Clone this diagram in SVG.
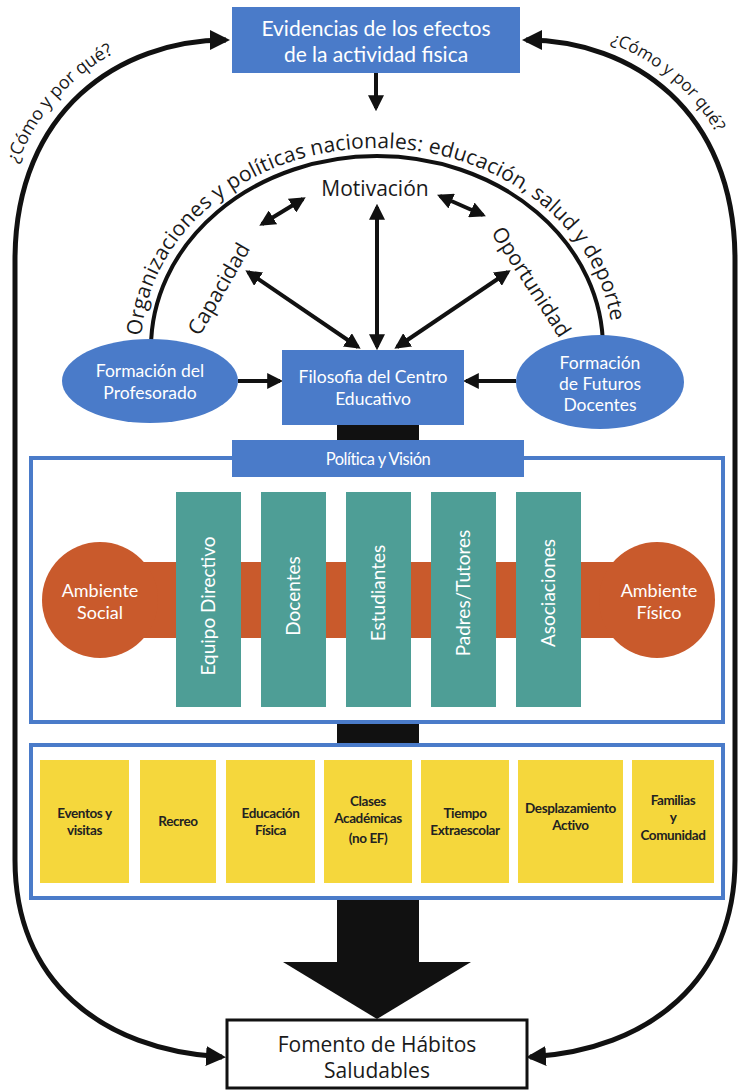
<svg xmlns="http://www.w3.org/2000/svg" width="739" height="1090" viewBox="0 0 739 1090">
<style>
.blue{fill:#4a7bc9}
.wt{fill:#fff;font-family:Lato,"Open Sans",sans-serif;text-anchor:middle}
.bk{fill:#1a1a1a;font-family:"Open Sans",Lato,sans-serif}
.ln{fill:none;stroke:#111;stroke-width:5}
.ar{fill:none;stroke:#111;stroke-width:4}
.teal{fill:#4e9e96}
.org{fill:#c95a2c}
.yel{fill:#f5d73c}
.frame{fill:#fff;stroke:#4a7bc9;stroke-width:4}
.yt{font-family:Lato,sans-serif;font-weight:bold;font-size:13.5px;fill:#222;text-anchor:middle;letter-spacing:-0.4px}
.vt{fill:#fff;font-family:Lato,"Open Sans",sans-serif;font-size:19px;text-anchor:middle}
</style>
<defs>
<marker id="ah" viewBox="0 0 10 10" refX="8" refY="5" markerWidth="4" markerHeight="4" orient="auto-start-reverse" markerUnits="strokeWidth"><path d="M0,0 L10,5 L0,10 z" fill="#111"/></marker>
<path id="lp" d="M 1 260 C 1 100 116 26 224 26"/>
<path id="rp" d="M 528 28 C 634 28 747 100 747 260"/>
<path id="arcp" d="M 141 348 A 236 200 0 0 1 613 348"/>
</defs>

<g id="shaft">
<rect x="337" y="425" width="82" height="540" fill="#111"/>
<polygon points="283,962 471,962 377,1019" fill="#111"/>
</g>

<g id="frame1"><rect class="frame" x="31" y="458" width="692" height="264"/></g>
<g id="frame2"><rect class="frame" x="31" y="745" width="692" height="153"/></g>

<g id="connectors">
<path class="ln" d="M 226 40 C 120 40 15 110 15 260 L 15 860 C 15 980 100 1050 222 1057" marker-start="url(#ah)" marker-end="url(#ah)"/>
<path class="ln" d="M 526 40 C 632 40 735 110 735 260 L 735 860 C 735 980 650 1050 530 1057" marker-start="url(#ah)" marker-end="url(#ah)"/>
<path class="ar" d="M 376 73 L 376 108" marker-end="url(#ah)"/>
<path class="ar" d="M 151 348 A 226 192 0 0 1 603 348"/>
<path class="ar" d="M 262 224 L 303 199" marker-start="url(#ah)" marker-end="url(#ah)"/>
<path class="ar" d="M 440 196 L 483 215" marker-start="url(#ah)" marker-end="url(#ah)"/>
<path class="ar" d="M 377 207 L 377 347" marker-start="url(#ah)" marker-end="url(#ah)"/>
<path class="ar" d="M 248 272 L 358 347" marker-start="url(#ah)" marker-end="url(#ah)"/>
<path class="ar" d="M 508 272 L 397 347" marker-start="url(#ah)" marker-end="url(#ah)"/>
<path class="ar" d="M 238 381 L 280 381" marker-end="url(#ah)"/>
<path class="ar" d="M 516 381 L 466 381" marker-end="url(#ah)"/>
</g>

<g id="loop-labels">
<text class="bk" font-size="18"><textPath href="#lp" startOffset="98">¿Cómo y por qué?</textPath></text>
<text class="bk" font-size="17"><textPath href="#rp" startOffset="84">¿Cómo y por qué?</textPath></text>
</g>

<g id="evidencias">
<rect class="blue" x="232" y="7" width="288" height="66"/>
<text class="wt" font-size="21" x="376" y="36">Evidencias de los efectos</text>
<text class="wt" font-size="21" x="376" y="62">de la actividad fisica</text>
</g>

<g id="organizaciones">
<text class="bk" font-size="21"><textPath href="#arcp" startOffset="12" textLength="260" lengthAdjust="spacing">Organizaciones y políticas</textPath></text>
<text class="bk" font-size="21"><textPath href="#arcp" startOffset="277" textLength="111" lengthAdjust="spacing">nacionales:</textPath></text>
<text class="bk" font-size="21"><textPath href="#arcp" startOffset="394" textLength="107" lengthAdjust="spacing">educación,</textPath></text>
<text class="bk" font-size="21"><textPath href="#arcp" startOffset="506" textLength="153" lengthAdjust="spacing">salud y deporte</textPath></text>
</g>

<g id="motivacion"><text class="bk" font-size="21" x="375" y="196" text-anchor="middle">Motivación</text></g>
<g id="capacidad"><text class="bk" font-size="21" text-anchor="middle" transform="translate(219,289) rotate(-60)" y="7">Capacidad</text></g>
<g id="oportunidad"><text class="bk" font-size="21" text-anchor="middle" transform="translate(531,282) rotate(57)" y="7">Oportunidad</text></g>

<g id="formacion-profesorado">
<ellipse class="blue" cx="150" cy="381" rx="88" ry="42"/>
<text class="wt" font-size="17.5" x="150" y="377">Formación del</text>
<text class="wt" font-size="17.5" x="150" y="399">Profesorado</text>
</g>

<g id="formacion-futuros">
<ellipse class="blue" cx="600" cy="382" rx="84" ry="47"/>
<text class="wt" font-size="17.5" x="600" y="369">Formación</text>
<text class="wt" font-size="17.5" x="600" y="390">de Futuros</text>
<text class="wt" font-size="17.5" x="600" y="411">Docentes</text>
</g>

<g id="filosofia">
<rect class="blue" x="282" y="350" width="182" height="75"/>
<text class="wt" font-size="17.5" x="373" y="383">Filosofia del Centro</text>
<text class="wt" font-size="17.5" x="373" y="405">Educativo</text>
</g>

<g id="politica">
<rect class="blue" x="232" y="440" width="292" height="37"/>
<text class="wt" font-size="16.5" x="378" y="465" letter-spacing="-0.5">Política y Visión</text>
</g>

<g id="ambiente-bar">
<rect class="org" x="100" y="562" width="557" height="76"/>
</g>
<g id="ambiente-social">
<circle class="org" cx="100" cy="600" r="58"/>
<text class="wt" font-size="18" x="100" y="597">Ambiente</text>
<text class="wt" font-size="18" x="100" y="619">Social</text>
</g>
<g id="ambiente-fisico">
<circle class="org" cx="657" cy="600" r="58"/>
<text class="wt" font-size="18" x="659" y="597">Ambiente</text>
<text class="wt" font-size="18" x="659" y="619">Físico</text>
</g>

<g id="equipo"><rect class="teal" x="176" y="492" width="65" height="215"/><text class="vt" transform="translate(215,606) rotate(-90)">Equipo Directivo</text></g>
<g id="docentes"><rect class="teal" x="261" y="492" width="65" height="215"/><text class="vt" transform="translate(300,596) rotate(-90)">Docentes</text></g>
<g id="estudiantes"><rect class="teal" x="346" y="492" width="65" height="215"/><text class="vt" transform="translate(385,593) rotate(-90)">Estudiantes</text></g>
<g id="padres"><rect class="teal" x="431" y="492" width="65" height="215"/><text class="vt" transform="translate(470,593) rotate(-90)">Padres/Tutores</text></g>
<g id="asociaciones"><rect class="teal" x="516" y="492" width="65" height="215"/><text class="vt" transform="translate(555,593) rotate(-90)">Asociaciones</text></g>

<g id="eventos"><rect class="yel" x="40" y="760" width="89" height="123"/><text class="yt" x="84.5" y="818">Eventos y</text><text class="yt" x="84.5" y="835">visitas</text></g>
<g id="recreo"><rect class="yel" x="140" y="760" width="76" height="123"/><text class="yt" x="178" y="826">Recreo</text></g>
<g id="educacion"><rect class="yel" x="226" y="760" width="89" height="123"/><text class="yt" x="270.5" y="818">Educación</text><text class="yt" x="270.5" y="835">Física</text></g>
<g id="clases"><rect class="yel" x="324" y="760" width="88" height="123"/><text class="yt" x="368" y="806">Clases</text><text class="yt" x="368" y="823">Académicas</text><text class="yt" x="368" y="843">(no EF)</text></g>
<g id="tiempo"><rect class="yel" x="421" y="760" width="88" height="123"/><text class="yt" x="465" y="818">Tiempo</text><text class="yt" x="465" y="835">Extraescolar</text></g>
<g id="desplazamiento"><rect class="yel" x="518" y="760" width="105" height="123"/><text class="yt" x="570.5" y="813">Desplazamiento</text><text class="yt" x="570.5" y="830">Activo</text></g>
<g id="familias"><rect class="yel" x="632" y="760" width="82" height="123"/><text class="yt" x="673" y="805">Familias</text><text class="yt" x="673" y="822">y</text><text class="yt" x="673" y="840">Comunidad</text></g>

<g id="fomento">
<rect x="227" y="1020" width="300" height="68" fill="#fff" stroke="#111" stroke-width="3"/>
<text class="bk" font-size="21" x="377" y="1052" text-anchor="middle">Fomento de Hábitos</text>
<text class="bk" font-size="21" x="377" y="1078" text-anchor="middle">Saludables</text>
</g>
</svg>
